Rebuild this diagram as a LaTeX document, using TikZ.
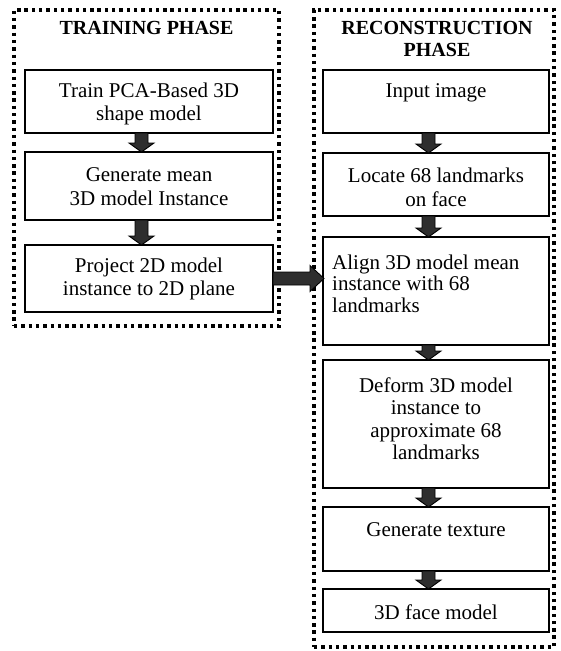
\documentclass[tikz,border=0pt]{standalone}
\usepackage{fontspec}
\setmainfont{Liberation Serif}
\usetikzlibrary{calc}
\tikzset{
  frame/.style={draw, line width=3.3pt, dash pattern=on 3.4pt off 3.9pt, inner sep=0pt, outer sep=0pt},
  box/.style={draw, line width=1.7pt, fill=white, inner sep=0pt, outer sep=0pt},
  txt/.style={inner sep=0pt, align=center, font=\fontsize{21}{23.5}\selectfont},
  ttl/.style={inner sep=0pt, align=center, font=\fontsize{20}{22}\selectfont\bfseries},
  fatarr/.style={draw=black, line width=0.9pt, fill=black!82, line join=miter}
}
\newcommand\downarr[2]{%
  \draw[fatarr] let \p1=(#1.south), \p2=(#2.north) in
   (\x1-14pt,\y1) -- (\x1-1pt,\y1) -- (\x1-1pt,\y2+9pt) -- (\x1+5pt,\y2+9pt)
   -- (\x1-7.5pt,\y2) -- (\x1-20pt,\y2+9pt) -- (\x1-14pt,\y2+9pt) -- cycle;}
\begin{document}
\begin{tikzpicture}[x=1pt,y=-1pt]
\useasboundingbox (0,0) rectangle (560,651);
% frames
\node[frame, minimum width=265pt, minimum height=316pt] (lf) at (146.5,168) {};
\node[frame, minimum width=240pt, minimum height=637pt] (rf) at (434,328.5) {};
% titles
\node[ttl] (lt) at (146.5,28) {TRAINING PHASE};
\node[ttl] (rt) at (437,39) {RECONSTRUCTION\\PHASE};
% left boxes
\node[box, minimum width=248pt, minimum height=63pt] (b1) at (149,101.5) {};
\node[txt] (b1t) at (149,104) {Train PCA-Based 3D\\shape model};
\node[box, minimum width=248pt, minimum height=68pt] (b2) at (149,186) {};
\node[txt] (b2t) at (149,186.5) {Generate mean\\3D model Instance};
\node[box, minimum width=248pt, minimum height=67pt] (b3) at (149,278.5) {};
\node[txt] (b3t) at (149,279) {Project 2D model\\instance to 2D plane};
% right boxes
\node[box, minimum width=226pt, minimum height=63pt] (r1) at (436,101.5) {};
\node[txt] (r1t) at (436,93) {Input image};
\node[box, minimum width=226pt, minimum height=63pt] (r2) at (436,184.5) {};
\node[txt] (r2t) at (436,187.5) {Locate 68 landmarks\\on face};
\node[box, minimum width=226pt, minimum height=108pt] (r3) at (436,291) {};
\node[txt, align=left, anchor=west, font=\fontsize{21}{21.5}\selectfont] (r3t) at (332,283.5) {Align 3D model mean\\instance with 68\\landmarks};
\node[box, minimum width=226pt, minimum height=128pt] (r4) at (436,424) {};
\node[txt, font=\fontsize{21}{22.5}\selectfont] (r4t) at (436,418.5) {Deform 3D model\\instance to\\approximate 68\\landmarks};
\node[box, minimum width=226pt, minimum height=64pt] (r5) at (436,539) {};
\node[txt] (r5t) at (436,530) {Generate texture};
\node[box, minimum width=226pt, minimum height=43pt] (r6) at (436,610.5) {};
\node[txt] (r6t) at (436,612) {3D face model};
% arrows
\downarr{b1}{b2}
\downarr{b2}{b3}
\downarr{r1}{r2}
\downarr{r2}{r3}
\downarr{r3}{r4}
\downarr{r4}{r5}
\downarr{r5}{r6}
\draw[fatarr] let \p1=(b3.east), \p2=(r3.west) in
  (\x1,\y1+6.5pt) -- (\x2-13pt,\y1+6.5pt) -- (\x2-13pt,\y1+13pt) -- (\x2+1pt,\y1)
  -- (\x2-13pt,\y1-13pt) -- (\x2-13pt,\y1-6.5pt) -- (\x1,\y1-6.5pt) -- cycle;
\end{tikzpicture}
\end{document}
